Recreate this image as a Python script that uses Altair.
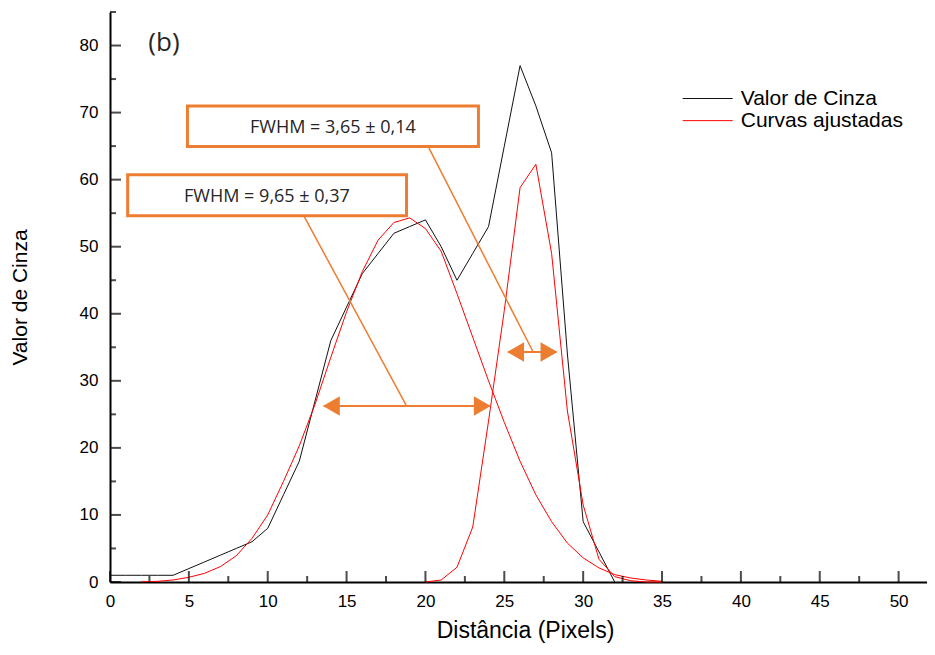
import altair as alt
import pandas as pd

# ---------------- data ----------------
x_gray = list(range(0, 33))
gray = [1, 1, 1, 1, 1, 2, 3, 4, 5, 6, 8, 13, 18, 27, 36, 41, 46, 49, 52, 53, 54,
        50, 45, 49, 53, 65, 77, 71, 64, 34, 9, 4.5, 0]

x_fit1 = list(range(2, 36))
fit1 = [0.05, 0.1, 0.3, 0.7, 1.3, 2.3, 3.9, 6.5, 10, 15, 20.3, 26.5, 33.5, 40.3,
        46.3, 51, 53.6, 54.3, 52.7, 49.3, 43, 36.5, 30, 23.8, 18, 13, 9, 5.8,
        3.6, 2.1, 1.1, 0.6, 0.3, 0.1]

x_fit2 = list(range(20, 36))
fit2 = [0, 0.3, 2.2, 8.2, 24, 40.5, 58.8, 62.3, 49, 25.5, 11.5, 3.4, 0.8, 0.2, 0, 0]

series_names = ["Valor de Cinza", "Curvas ajustadas"]
series_colors = ["#111111", "#ff0000"]

x_major = list(range(0, 51, 5))
x_minor = [2.5 + 5 * i for i in range(10)]
y_major = list(range(0, 81, 10))
y_minor = list(range(5, 86, 10))

# annotations (data coordinates)
box_labels = ["FWHM = 3,65 \u00b1 0,14", "FWHM = 9,65 \u00b1 0,37"]
box_x1 = [4.91, 1.12]
box_x2 = [23.36, 18.8]
box_y1 = [64.95, 54.6]
box_y2 = [71.0, 60.73]
box_tx = [14.13, 9.95]
box_ty = [67.75, 57.4]
leader_x1 = [20.17, 12.29]
leader_y1 = [64.95, 54.6]
leader_x2 = [26.83, 18.8]
leader_y2 = [34.3, 26.26]
arrow_x1 = [25.24, 13.56]
arrow_x2 = [28.31, 24.08]
arrow_y = [34.3, 26.26]

legend_x1 = 36.31
legend_x2 = 39.48
legend_tx = 39.99
legend_y = [72.1, 68.8]

panel_label = "(b)"
panel_x = 3.42
panel_y = 80.4

ORANGE = "#ED7D31"

# ---------------- tables ----------------
lines_df = pd.concat([
    pd.DataFrame({"x": x_gray, "y": gray, "series": series_names[0], "curve": "gray"}),
    pd.DataFrame({"x": x_fit1, "y": fit1, "series": series_names[1], "curve": "fit1"}),
    pd.DataFrame({"x": x_fit2, "y": fit2, "series": series_names[1], "curve": "fit2"}),
], ignore_index=True)

boxes_df = pd.DataFrame({"x": box_x1, "x2": box_x2, "y": box_y1, "y2": box_y2,
                         "tx": box_tx, "ty": box_ty, "label": box_labels})
leaders_df = pd.DataFrame({"x": leader_x1, "x2": leader_x2, "y": leader_y1, "y2": leader_y2})
arrows_df = pd.DataFrame({"x": arrow_x1, "x2": arrow_x2, "y": arrow_y})
legend_df = pd.DataFrame({"x": [legend_x1] * 2, "x2": [legend_x2] * 2, "tx": [legend_tx] * 2,
                          "y": legend_y, "series": series_names})
xt_major = pd.DataFrame({"x": x_major, "y": [0] * len(x_major)})
xt_minor = pd.DataFrame({"x": x_minor, "y": [0] * len(x_minor)})
yt_major = pd.DataFrame({"y": y_major, "x": [0] * len(y_major)})
yt_minor = pd.DataFrame({"y": y_minor, "x": [0] * len(y_minor)})
panel_df = pd.DataFrame({"x": [panel_x], "y": [panel_y], "label": [panel_label]})

XS = alt.Scale(domain=[0, 51.8], nice=False, zero=False)
YS = alt.Scale(domain=[0, 85], nice=False, zero=False)
CS = alt.Scale(domain=series_names, range=series_colors)

x_axis = alt.Axis(
    title="Dist\u00e2ncia (Pixels)", values=x_major, format="d", ticks=False, grid=False,
    domain=True, domainColor="black", domainWidth=2, labelFont="Liberation Sans", labelFontSize=17,
    labelColor="black", labelPadding=11, labelFlush=False,
    titleFont="Liberation Sans", titleFontSize=23, titleFontWeight="normal",
    titleColor="black", titleX=415, titleY=48, titleBaseline="middle")
y_axis = alt.Axis(
    title="Valor de Cinza", values=y_major, format="d", ticks=False, grid=False,
    domain=True, domainColor="black", domainWidth=2, labelFont="Liberation Sans", labelFontSize=17,
    labelColor="black", labelPadding=12, labelFlush=False,
    titleFont="Liberation Sans", titleFontSize=21, titleFontWeight="normal",
    titleColor="black", titleX=-90, titleBaseline="middle")


def xe(field="x"):
    return alt.X(f"{field}:Q", scale=XS, axis=x_axis, title="Dist\u00e2ncia (Pixels)")


def ye(field="y"):
    return alt.Y(f"{field}:Q", scale=YS, axis=y_axis, title="Valor de Cinza")


lines = alt.Chart(lines_df).mark_line(strokeWidth=1).encode(
    x=xe("x"), y=ye("y"),
    color=alt.Color("series:N", scale=CS, legend=None),
    detail="curve:N",
    order=alt.Order("x:Q"),
)

ticks_xM = alt.Chart(xt_major).mark_tick(orient="vertical", size=11, thickness=2,
                                         color="black", yOffset=-5.5).encode(x=xe(), y=ye())
ticks_xm = alt.Chart(xt_minor).mark_tick(orient="vertical", size=6, thickness=2,
                                         color="black", yOffset=-3).encode(x=xe(), y=ye())
ticks_yM = alt.Chart(yt_major).mark_tick(orient="horizontal", size=11, thickness=2,
                                         color="black", xOffset=5.5).encode(x=xe(), y=ye())
ticks_ym = alt.Chart(yt_minor).mark_tick(orient="horizontal", size=6, thickness=2,
                                         color="black", xOffset=3).encode(x=xe(), y=ye())

leaders = alt.Chart(leaders_df).mark_rule(color=ORANGE, strokeWidth=1.5).encode(
    x=xe(), x2="x2:Q", y=ye(), y2="y2:Q")

boxes = alt.Chart(boxes_df).mark_rect(fill="white", stroke=ORANGE, strokeWidth=3).encode(
    x=xe(), x2="x2:Q", y=ye(), y2="y2:Q")

box_text = alt.Chart(boxes_df).mark_text(font="Open Sans", fontSize=18, color="#262626",
                                         align="center", baseline="middle").encode(
    x=xe("tx"), y=ye("ty"), text="label:N")

shafts = alt.Chart(arrows_df).mark_rule(color=ORANGE, strokeWidth=2).encode(
    x=xe(), x2="x2:Q", y=ye())
heads_l = alt.Chart(arrows_df).mark_point(shape="triangle-left", filled=True, size=380,
                                          color=ORANGE, opacity=1, xOffset=7.5).encode(
    x=xe("x"), y=ye())
heads_r = alt.Chart(arrows_df).mark_point(shape="triangle-right", filled=True, size=380,
                                          color=ORANGE, opacity=1, xOffset=-7.5).encode(
    x=xe("x2"), y=ye())

legend_lines = alt.Chart(legend_df).mark_rule(strokeWidth=1).encode(
    x=xe(), x2="x2:Q", y=ye(), color=alt.Color("series:N", scale=CS, legend=None))
legend_text = alt.Chart(legend_df).mark_text(font="Liberation Sans", fontSize=21, color="black",
                                             align="left", baseline="middle").encode(
    x=xe("tx"), y=ye(), text="series:N")

panel = alt.Chart(panel_df).mark_text(font="Open Sans", fontSize=26, color="#262626",
                                      align="center", baseline="middle").encode(
    x=xe(), y=ye(), text="label:N")

chart = alt.layer(
    lines, ticks_xM, ticks_xm, ticks_yM, ticks_ym, leaders, boxes, box_text,
    shafts, heads_l, heads_r, legend_lines, legend_text, panel
).properties(
    width=817, height=570,
    autosize=alt.AutoSizeParams(type="none"),
    padding={"left": 102, "top": 4, "right": 0, "bottom": 62},
    background="white",
).configure_view(stroke=None)

chart.save("out.html", embed_options={"renderer": "svg", "actions": False})
